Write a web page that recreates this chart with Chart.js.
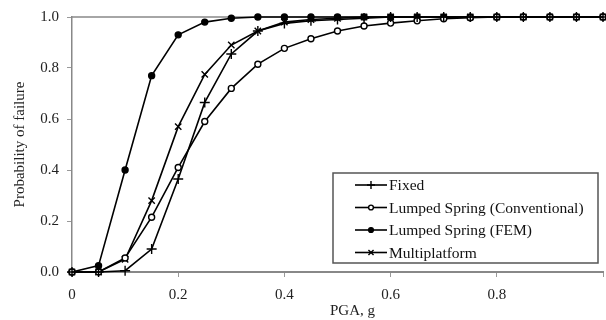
<!DOCTYPE html>
<html>
<head>
<meta charset="utf-8">
<script src="https://cdn.jsdelivr.net/npm/chart.js@4"></script>
<style>
  html, body { margin: 0; padding: 0; overflow: hidden; background: #fff; }
  #wrap { width: 612px; height: 320px; }
</style>
</head>
<body>
<div id="wrap"><canvas id="fragility" width="612" height="320"></canvas></div>
<script>
const pga = [0, 0.05, 0.1, 0.15, 0.2, 0.25, 0.3, 0.35, 0.4, 0.45, 0.5,
  0.55, 0.6, 0.65, 0.7, 0.75, 0.8, 0.85, 0.9, 0.95, 1.0];

const fixed = [0, 0, 0.005, 0.09, 0.365, 0.665, 0.855, 0.945, 0.975, 0.985, 0.99,
  0.995, 1, 1, 1, 1, 1, 1, 1, 1, 1];
const lumpedConv = [0, 0, 0.055, 0.215, 0.41, 0.59, 0.72, 0.815, 0.877, 0.915, 0.945,
  0.965, 0.976, 0.985, 0.993, 0.997, 1, 1, 1, 1, 1];
const lumpedFem = [0, 0.025, 0.4, 0.77, 0.93, 0.98, 0.995, 1, 1, 1, 1,
  1, 1, 1, 1, 1, 1, 1, 1, 1, 1];
const multiplatform = [0, 0, 0.05, 0.28, 0.57, 0.775, 0.89, 0.945, 0.98, 0.99, 0.995,
  1, 1, 1, 1, 1, 1, 1, 1, 1, 1];

const yTicks = [0, 0.2, 0.4, 0.6, 0.8, 1.0];
const xTicks = [0, 0.2, 0.4, 0.6, 0.8, 1.0];

const FONT = "'Liberation Serif', 'DejaVu Serif', serif";

function toPoints(ys) {
  return ys.map((y, i) => ({ x: pga[i], y }));
}

function series(label, ys, style, radius, fill) {
  return {
    label,
    data: toPoints(ys),
    borderColor: "#000",
    borderWidth: 1.6,
    pointStyle: style,
    pointRadius: radius,
    pointBorderColor: "#000",
    pointBorderWidth: 1.4,
    pointBackgroundColor: fill,
    tension: 0,
    clip: false,
  };
}

// box around the plot area (only top/left visible, right side is cropped)
const plotBorder = {
  id: "plotBorder",
  beforeDatasetsDraw(chart) {
    const { ctx, chartArea: a } = chart;
    ctx.save();
    ctx.strokeStyle = "#888";
    ctx.lineWidth = 1.5;
    ctx.beginPath();
    ctx.moveTo(a.left, a.top);
    ctx.lineTo(a.right, a.top);
    ctx.stroke();
    ctx.restore();
  },
};

// legend box drawn inside the plot, lower right
const boxLegend = {
  id: "boxLegend",
  afterDraw(chart) {
    const { ctx } = chart;
    const left = 333, top = 173, w = 265, h = 90;
    ctx.save();
    ctx.fillStyle = "#fff";
    ctx.fillRect(left, top, w, h);
    ctx.strokeStyle = "#555";
    ctx.lineWidth = 1.5;
    ctx.strokeRect(left, top, w, h);
    ctx.font = "15.5px " + FONT;
    ctx.textBaseline = "middle";
    chart.data.datasets.forEach((ds, i) => {
      const y = top + 12 + i * 22.5;
      ctx.strokeStyle = "#000";
      ctx.lineWidth = 1.6;
      ctx.beginPath();
      ctx.moveTo(355, y);
      ctx.lineTo(387, y);
      ctx.stroke();
      ctx.fillStyle = ds.pointBackgroundColor;
      ctx.strokeStyle = "#000";
      ctx.lineWidth = ds.pointBorderWidth;
      Chart.helpers.drawPoint(ctx, {
        pointStyle: ds.pointStyle,
        radius: ds.pointRadius * 0.8,
        borderWidth: ds.pointBorderWidth,
      }, 371, y);
      ctx.fillStyle = "#111";
      ctx.fillText(ds.label, 389, y + 1);
    });
    ctx.restore();
  },
};

new Chart(document.getElementById("fragility").getContext("2d"), {
  type: "line",
  data: {
    datasets: [
      series("Fixed", fixed, "cross", 5, "#000"),
      series("Lumped Spring (Conventional)", lumpedConv, "circle", 3, "#fff"),
      series("Lumped Spring (FEM)", lumpedFem, "circle", 3, "#000"),
      series("Multiplatform", multiplatform, "crossRot", 4.5, "#000"),
    ],
  },
  options: {
    responsive: false,
    animation: false,
    layout: { padding: { top: 15, right: 4, left: 0, bottom: 0 } },
    scales: {
      x: {
        type: "linear",
        min: 0,
        max: 1,
        afterBuildTicks: (scale) => {
          scale.ticks = xTicks.map((v) => ({ value: v }));
        },
        afterFit: (scale) => { scale.height = 48; },
        ticks: {
          color: "#222",
          font: { family: FONT, size: 15 },
          padding: 9,
          maxRotation: 0,
          // the 1.0 label falls off the cropped right edge
          callback: (v) => (v === 0 ? "0" : v === 1 ? "" : v.toFixed(1)),
        },
        grid: { drawOnChartArea: false, tickLength: 5, color: "#999", lineWidth: 1 },
        border: { color: "#888", width: 2 },
        title: {
          display: true,
          text: "        PGA, g",
          color: "#222",
          font: { family: FONT, size: 15 },
          padding: { top: 0, bottom: 0 },
        },
      },
      y: {
        min: 0,
        max: 1,
        afterBuildTicks: (scale) => {
          scale.ticks = yTicks.map((v) => ({ value: v }));
        },
        afterFit: (scale) => { scale.width = 72; },
        ticks: {
          color: "#222",
          font: { family: FONT, size: 15 },
          padding: 8,
          callback: (v) => v.toFixed(1),
        },
        grid: { drawOnChartArea: false, tickLength: 5, color: "#999", lineWidth: 1 },
        border: { color: "#888", width: 1.5 },
        title: {
          display: true,
          text: "Probability of failure",
          color: "#222",
          font: { family: FONT, size: 15 },
          padding: { top: 11, bottom: 4 },
        },
      },
    },
    plugins: {
      legend: { display: false },
      tooltip: { enabled: false },
    },
  },
  plugins: [plotBorder, boxLegend],
});
</script>
</body>
</html>
